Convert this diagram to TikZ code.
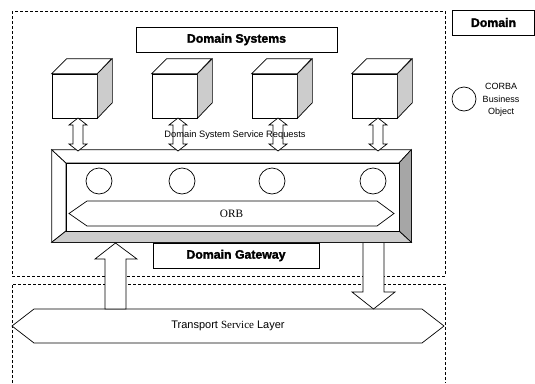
\documentclass[tikz,border=0pt]{standalone}
\usepackage{fontspec}
\setmainfont{Liberation Sans}[BoldFeatures={FakeBold=2}]
\newfontfamily\serifface{Liberation Serif}
\begin{document}
\begin{tikzpicture}[x=1pt,y=-1pt,line width=0.7pt,line join=miter,
  dashbox/.style={draw,dash pattern=on 3pt off 2pt,line width=0.6pt},
  labelbox/.style={draw,fill=white,inner sep=0pt,font=\bfseries\fontsize{12.3}{14}\selectfont},
  cubefront/.style={draw,fill=white,minimum width=45pt,minimum height=44pt,inner sep=0pt},
  shade/.style={draw,fill=black!20},
  darkshade/.style={draw,fill=black!35},
  blockarrow/.style={draw,fill=white},
  orbcircle/.style={draw,circle,minimum size=26pt,inner sep=0pt}]
\useasboundingbox (0,0) rectangle (535,383);

% dashed domain regions
\draw[dashbox] (12,11) rectangle (445,276);
\draw[dashbox] (12,383) -- (12,284) -- (445,284) -- (445,383);

% title boxes
\node[labelbox,minimum width=201pt,minimum height=25pt] (ds) at (236.5,39.5) {Domain Systems};
\node[labelbox,minimum width=82pt,minimum height=25pt] (dom) at (493.5,22.5) {Domain};

% legend
\node[draw,circle,minimum size=24pt,inner sep=0pt] (leg) at (464,99) {};
\node[align=center,font=\fontsize{9}{12.5}\selectfont] (legtxt) at (501,100) {CORBA\\Business\\Object};

% cubes
\foreach \i/\x in {1/52,2/152,3/252,4/352}{
  \node[cubefront] (c\i) at (\x+22.5,96) {};
  \draw[shade] (c\i.north east) -- ++(15,-15) -- ++(0,44) -- (c\i.south east) -- cycle;
  \draw[blockarrow] (c\i.north west) -- ++(15,-15) -- ++(45,0) -- (c\i.north east) -- cycle;
}

% gateway frame
\node[draw,minimum width=359pt,minimum height=92pt,inner sep=0pt] (gw) at (231.5,196) {};
\coordinate (gi1) at (66,163);
\coordinate (gi2) at (399,231);
\draw[blockarrow] (gw.north west) -- (gi1) -- (gi1 |- gi2) -- (gw.south west) -- cycle;
\draw[blockarrow] (gw.north west) -- (gw.north east) -- (gi2 |- gi1) -- (gi1) -- cycle;
\draw[darkshade] (gw.north east) -- (gw.south east) -- (gi2) -- (gi2 |- gi1) -- cycle;
\draw[shade] (gw.south west) -- (gw.south east) -- (gi2) -- (gi1 |- gi2) -- cycle;
\draw[blockarrow] (gi1) rectangle (gi2);

% CORBA business objects
\foreach \i/\x in {1/99,2/182,3/272,4/373}{
  \node[orbcircle] (o\i) at (\x,181) {};
}

% ORB
\draw[blockarrow] (69,213.5) -- (87,201) -- (377,201) -- (394,213.5) -- (377,226) -- (87,226) -- cycle;
\node[font=\serifface\fontsize{11.3}{13}\selectfont] (orb) at (231.5,213.5) {ORB};

% domain gateway label
\node[labelbox,minimum width=166pt,minimum height=25pt] (dg) at (236,255.5) {Domain Gateway};

% request arrows cube <-> gateway
\foreach \x in {78,178,278,378}{
  \draw[blockarrow] (\x,118) -- (\x+9,125) -- (\x+5,125) -- (\x+5,144) -- (\x+9,144) -- (\x,151)
     -- (\x-9,144) -- (\x-5,144) -- (\x-5,125) -- (\x-9,125) -- cycle;
}
\node[font=\fontsize{9.3}{11}\selectfont,inner sep=0pt] (req) at (235,135) {Domain System Service Requests};

% transport service layer
\draw[blockarrow] (12,326) -- (34,309) -- (422,309) -- (444,326) -- (422,343) -- (34,343) -- cycle;
\node[font=\fontsize{11}{13}\selectfont] (tsl) at (228,326) {Transport {\serifface Service} Layer};

% gateway <-> transport arrows
\draw[blockarrow] (115.5,243) -- (137,259) -- (126,259) -- (126,309) -- (105,309) -- (105,259) -- (95,259) -- cycle;
\fill[white] (363,243) rectangle (384,292);
\draw[blockarrow] (363,243) -- (363,292) -- (352,292) -- (373.5,309) -- (395,292) -- (384,292) -- (384,243);
\end{tikzpicture}
\end{document}
